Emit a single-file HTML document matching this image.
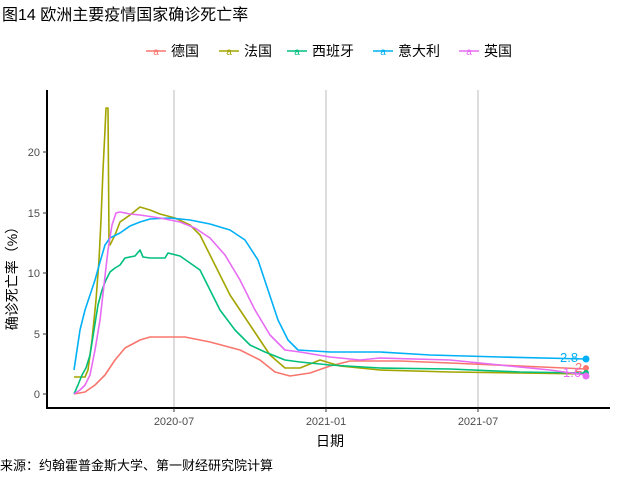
<!DOCTYPE html>
<html><head><meta charset="utf-8"><style>body{margin:0;background:#fff}svg{display:block}text{font-family:"Liberation Sans","Noto Sans CJK SC",sans-serif}</style></head><body>
<svg width="640" height="480" xmlns="http://www.w3.org/2000/svg">
<text x="2" y="20" font-size="16" fill="#000">图14 欧洲主要疫情国家确诊死亡率</text>
<g font-size="14" fill="#000">
<line x1="146" y1="51" x2="166" y2="51" stroke="#F8766D" stroke-width="1.5"/><text x="156" y="55" font-size="10" fill="#F8766D" text-anchor="middle">a</text><text x="171" y="56">德国</text>
<line x1="219" y1="51" x2="239" y2="51" stroke="#A3A500" stroke-width="1.5"/><text x="229" y="55" font-size="10" fill="#A3A500" text-anchor="middle">a</text><text x="244" y="56">法国</text>
<line x1="287" y1="51" x2="307" y2="51" stroke="#00BF7D" stroke-width="1.5"/><text x="297" y="55" font-size="10" fill="#00BF7D" text-anchor="middle">a</text><text x="312" y="56">西班牙</text>
<line x1="373" y1="51" x2="393" y2="51" stroke="#00B0F6" stroke-width="1.5"/><text x="383" y="55" font-size="10" fill="#00B0F6" text-anchor="middle">a</text><text x="398" y="56">意大利</text>
<line x1="459" y1="51" x2="479" y2="51" stroke="#E76BF3" stroke-width="1.5"/><text x="469" y="55" font-size="10" fill="#E76BF3" text-anchor="middle">a</text><text x="484" y="56">英国</text>
</g>
<g stroke="#bbb" stroke-width="1"><line x1="174" y1="90" x2="174" y2="408"/><line x1="326" y1="90" x2="326" y2="408"/><line x1="478" y1="90" x2="478" y2="408"/></g>
<g fill="none" stroke-width="1.6" stroke-linejoin="round">
<polyline stroke="#F8766D" points="74,394 85,392 95,385 105,375 115,360 125,348 140,340 150,337 185,337 210,342 240,350 260,360 275,372 290,376 310,373 330,366 350,361 400,361 450,363 520,366 586,369"/>
<polyline stroke="#A3A500" points="74,377 85,377 88,370 92,340 96,300 99,260 101,220 103,170 105,130 106,108 108,108 109,240 110,245 115,235 120,222 130,215 140,207 150,210 160,214 175,218 190,225 200,235 210,255 220,275 230,295 240,310 250,325 260,340 270,355 285,368 300,368 320,360 340,366 380,370 450,372 520,373 586,374"/>
<polyline stroke="#00BF7D" points="74,394 78,385 82,375 86,368 90,355 94,330 98,305 102,290 106,280 110,272 115,268 120,265 125,258 135,256 140,250 143,257 150,258 165,258 168,253 180,256 190,263 200,270 210,290 220,310 235,330 250,345 265,352 285,360 300,362 330,365 380,368 450,369 520,372 586,373"/>
<polyline stroke="#00B0F6" points="74,370 77,350 80,330 85,310 90,295 95,280 100,262 105,245 110,238 120,233 130,226 140,222 150,219 170,218 190,220 210,224 230,230 245,240 258,260 268,290 278,320 288,340 298,350 330,352 380,352 430,355 500,357 586,359"/>
<polyline stroke="#E76BF3" points="74,394 80,390 85,385 90,375 95,350 100,320 104,285 108,250 112,225 116,213 120,212 130,214 140,215 160,218 180,222 195,228 210,238 225,255 240,280 255,310 270,335 285,350 300,352 330,357 360,360 380,358 450,360 500,365 550,370 586,375"/>
</g>
<g font-size="13"><text x="560" y="362" fill="#00B0F6">2.8</text><text x="563" y="377" fill="#E76BF3">1.6</text><text x="575" y="372" fill="#F8766D">2</text></g>
<circle cx="586" cy="359" r="3.5" fill="#00B0F6"/><circle cx="586" cy="368" r="3" fill="#F8766D"/><circle cx="586" cy="373" r="3" fill="#00BF7D"/><circle cx="586" cy="376" r="3.5" fill="#E76BF3"/>
<g stroke="#000"><line x1="47" y1="90" x2="47" y2="409" stroke-width="2"/><line x1="46" y1="408" x2="610" y2="408" stroke-width="2"/></g>
<g stroke="#333"><line x1="43" y1="394" x2="47" y2="394"/><line x1="43" y1="334" x2="47" y2="334"/><line x1="43" y1="273" x2="47" y2="273"/><line x1="43" y1="213" x2="47" y2="213"/><line x1="43" y1="152" x2="47" y2="152"/>
<line x1="174" y1="408" x2="174" y2="412"/><line x1="326" y1="408" x2="326" y2="412"/><line x1="478" y1="408" x2="478" y2="412"/></g>
<g font-size="11" fill="#4d4d4d" text-anchor="end"><text x="40" y="398">0</text><text x="40" y="338">5</text><text x="40" y="277">10</text><text x="40" y="217">15</text><text x="40" y="156">20</text></g>
<g font-size="11" fill="#4d4d4d" text-anchor="middle"><text x="174" y="425">2020-07</text><text x="326" y="425">2021-01</text><text x="478" y="425">2021-07</text></g>
<text x="330" y="446" font-size="14" text-anchor="middle">日期</text>
<text transform="translate(17,275) rotate(-90)" font-size="14" text-anchor="middle">确诊死亡率（%）</text>
<text x="0" y="470" font-size="13">来源：约翰霍普金斯大学、第一财经研究院计算</text>
</svg>
</body></html>
